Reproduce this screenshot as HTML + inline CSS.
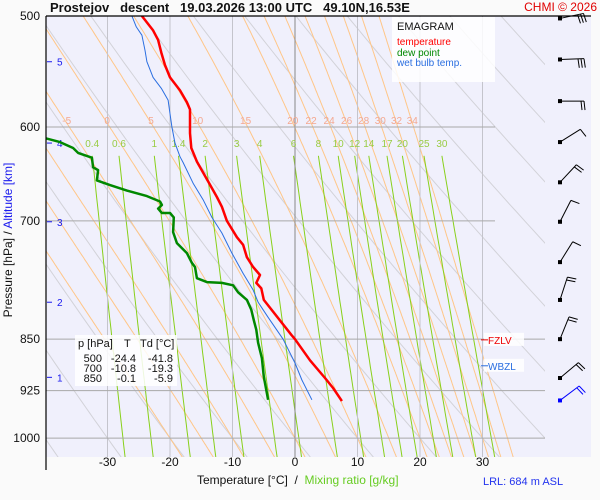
<!DOCTYPE html>
<html><head><meta charset="utf-8">
<style>
html,body{margin:0;padding:0;background:#fafafa;}
svg{display:block;font-family:"Liberation Sans",sans-serif;}
</style></head>
<body>
<svg id="chart" width="600" height="500" viewBox="0 0 600 500" xmlns="http://www.w3.org/2000/svg">
<defs>
<clipPath id="plotClip"><rect x="46" y="16" width="499" height="441"/></clipPath>
<clipPath id="profClip"><rect x="46" y="16" width="545" height="441"/></clipPath>
</defs>
<rect x="46" y="16" width="545" height="441" fill="#f0f0fc"/>
<g id="bg" clip-path="url(#plotClip)"></g>
<g id="grid"></g>
<g id="labels"></g>
<g id="profiles" clip-path="url(#profClip)"></g>
<g id="barbs"></g>
<line x1="46" y1="16" x2="591" y2="16" stroke="#000" stroke-width="1.2"/>
<line x1="46" y1="16" x2="46" y2="470" stroke="#000" stroke-width="1.2"/>
<text x="50" y="12" font-size="13" font-weight="bold" fill="#111" xml:space="preserve">Prostejov   descent   19.03.2026 13:00 UTC   49.10N,16.53E</text>
<text x="597" y="11" font-size="12" fill="#e00000" text-anchor="end">CHMI © 2026</text>
<g>
<rect x="392" y="17" width="103" height="65" fill="#ffffff" opacity="0.85"/>
<text x="397" y="30" font-size="11" fill="#111">EMAGRAM</text>
<text x="397" y="45" font-size="10" fill="#ff0000">temperature</text>
<text x="397" y="56" font-size="10" fill="#008800">dew point</text>
<text x="397" y="66" font-size="10" fill="#2a6ee0">wet bulb temp.</text>
</g>
<g font-size="11" fill="#111">
<rect x="75" y="335" width="102" height="51" fill="#ffffff" opacity="0.85"/>
<text x="78" y="347">p [hPa]</text><text x="124" y="347">T</text><text x="140" y="347">Td [°C]</text>
<text x="102" y="362" text-anchor="end">500</text><text x="136" y="362" text-anchor="end">-24.4</text><text x="173" y="362" text-anchor="end">-41.8</text>
<text x="102" y="372" text-anchor="end">700</text><text x="136" y="372" text-anchor="end">-10.8</text><text x="173" y="372" text-anchor="end">-19.3</text>
<text x="102" y="382" text-anchor="end">850</text><text x="136" y="382" text-anchor="end">-0.1</text><text x="173" y="382" text-anchor="end">-5.9</text>
</g>
<text transform="translate(12,240) rotate(-90)" font-size="12" text-anchor="middle" fill="#111">Pressure [hPa]  /  <tspan fill="#1a1aee">Altitude [km]</tspan></text>
<text x="197" y="484" font-size="12" fill="#111" xml:space="preserve">Temperature [°C]  /  <tspan fill="#66cc22">Mixing ratio [g/kg]</tspan></text>
<text x="483" y="485" font-size="11" fill="#2233ee">LRL: 684 m ASL</text>
</svg>
<script>
// ---- data ----
const tempP = [500,512,520,531,542,553,565,576,583,606,621,635,656,673,684,700,719,728,743,755,765,775,782,797,844,850,880,906,921,941];
const tempT = [-24.5,-22.7,-21.9,-21.4,-20.8,-20.0,-18.4,-17.3,-16.8,-16.8,-16.6,-15.7,-13.9,-12.5,-11.7,-10.9,-9.3,-8.3,-7.7,-6.7,-5.6,-6.2,-5.4,-5.0,-0.6,0.0,2.4,4.8,6.1,7.5];
const dewP = [500,600,611,615,621,626,631,641,644,655,660,666,672,678,682,686,691,691,696,713,726,738,750,755,769,774,775,778,787,797,810,824,837,855,877,904,939];
const dewT = [-41.8,-41.0,-40.0,-37.6,-35.5,-34.7,-32.5,-32.3,-31.5,-31.7,-29.6,-26.9,-23.7,-21.6,-21.3,-21.9,-21.3,-20.0,-19.4,-19.5,-18.9,-17.3,-16.5,-16.0,-15.7,-14.1,-11.7,-9.9,-9.1,-7.7,-7.0,-6.6,-6.2,-5.9,-5.3,-5.0,-4.3];
const wbP = [500,509,516,529,539,553,563,574,587,600,616,630,636,658,676,696,714,738,763,784,800,820,850,884,909,939];
const wbT = [-26.1,-25.4,-24.5,-24.0,-23.7,-22.7,-21.4,-20.3,-20.0,-19.7,-19.2,-18.4,-17.9,-16.3,-14.7,-13.3,-11.7,-10.1,-8.3,-6.7,-5.9,-4.3,-1.9,0.0,1.1,2.7];
const windP = [502,537,575,615,657,701,749,797,850,906,940];
const windDir = [78,88,90,58,43,27,32,18,22,50,53];
const windKt = [30,30,20,10,20,10,10,20,20,20,20];
const pressTicks = [500,600,700,850,925,1000];
const tempTicks = [-30,-20,-10,0,10,20,30];
const kmLabels = [1,2,3,4,5];
const kmPress = [905,800,701,616,539];
const thetaWLabels = [-5,0,5,10,15,20,22,24,26,28,30,32,34];
const thetaWExtra = [-20,-15,-10];
const mixLabels = [0.4,0.6,1,1.4,2,3,4,6,8,10,12,14,17,20,25,30];
const dryThetas = [-40,-30,-20,-10,0,10,20,30,40,50,60,70,80,90,100,110,120,130,140,150,160];
const fzlvP = 851, wbzlP = 888;

// ---- scales ----
const xS = T => 295 + 6.25*T;
const yS = p => 16 + 609*Math.log(p/500);
const NS = "http://www.w3.org/2000/svg";
function mk(tag, attrs, parent){
  const e = document.createElementNS(NS, tag);
  for (const k in attrs) e.setAttribute(k, attrs[k]);
  parent.appendChild(e); return e;
}
const bg = document.getElementById('bg'), grid = document.getElementById('grid'),
      labels = document.getElementById('labels'), prof = document.getElementById('profiles'),
      barbs = document.getElementById('barbs');
const pts = arr => arr.map(q => q[0].toFixed(1)+','+q[1].toFixed(1)).join(' ');

// dry adiabats
dryThetas.forEach(th => {
  const a = [];
  for (let p = 480; p <= 1040; p += 10) a.push([xS((th+273.15)*Math.pow(p/1000,0.2857)-273.15), yS(p)]);
  const el = mk('polyline', {points: pts(a), fill:'none', stroke:'#d2d2d8', 'stroke-width':1}, bg);
  
  
});
// moist adiabats
const Rd=287.04, cp=1005.7, Lv=2.501e6, eps=0.622;
const es = Tc => 6.112*Math.exp(17.67*Tc/(Tc+243.5));
function dTdp(T,p){ const e=es(T-273.15), rs=eps*e/(p-e);
  return (Rd*T + Lv*rs)/(p*(cp + Lv*Lv*rs*eps/(Rd*T*T))); }
function moist(thw){
  const up=[], T0=thw+273.15; let T=T0;
  for (let p=1000; p>=470; p-=2){ up.push([p,T]); T -= dTdp(T,p)*2; }
  const dn=[]; T=T0;
  for (let p=1000; p<=1040; p+=2){ dn.push([p,T]); T += dTdp(T,p)*2; }
  return dn.reverse().concat(up.slice(1));
}
function tAt(curve,p){ let best=curve[0]; curve.forEach(c=>{ if(Math.abs(c[0]-p)<Math.abs(best[0]-p)) best=c; }); return best[1]-273.15; }
thetaWExtra.concat(thetaWLabels).forEach(th => {
  const c = moist(th);
  const el = mk('polyline', {points: pts(c.map(q=>[xS(q[1]-273.15), yS(q[0])])), fill:'none', stroke:'#ffc688', 'stroke-width':1}, bg);
  
  
  if (thetaWLabels.includes(th)) {
    const t = mk('text', {x: xS(tAt(c,596)).toFixed(1), y: 124, 'font-size':10, fill:'#f4a890', 'text-anchor':'middle'}, labels);
    t.textContent = th;
    
    
  }
});
// mixing ratio lines
function tMix(w,p){ const e=w*p/(622+w), l=Math.log(e/6.112); return 243.5*l/(17.67-l); }
mixLabels.forEach(w => {
  const a=[]; for (let p=629; p<=1040; p+=10) a.push([xS(tMix(w,p)), yS(p)]);
  const el = mk('polyline', {points: pts(a), fill:'none', stroke:'#88d01a', 'stroke-width':1}, bg);
  
  
  const t = mk('text', {x: xS(tMix(w,629)).toFixed(1), y: 147, 'font-size':10, fill:'#99cc44', 'text-anchor':'middle'}, labels);
  t.textContent = w;
  
  
});
// isotherms + x ticks
tempTicks.forEach(T => {
  const el = mk('line', {x1:xS(T), x2:xS(T), y1:16, y2:457, stroke: T===0?'#888':'#c4c4cc', 'stroke-width':1}, grid);
  
  
  const t = mk('text', {x:xS(T), y:466, 'font-size':12, fill:'#111', 'text-anchor':'middle'}, grid);
  t.textContent = T;
  
  
});
// isobars + y ticks
pressTicks.forEach(p => {
  const xr = p < 800 ? 495 : 545;
  if (p !== 500) {
    const el = mk('line', {x1:46, x2:xr, y1:yS(p), y2:yS(p), stroke:'#a8a8a8', 'stroke-width':1}, grid);
    
    
  }
  const t = mk('text', {x:40, y:yS(p)+4, 'font-size':12, fill:'#111', 'text-anchor':'end'}, grid);
  t.textContent = p;
  
  
});
// km ticks
kmLabels.forEach((k,i) => {
  const y = yS(kmPress[i]);
  const el = mk('line', {x1:47, x2:52, y1:y, y2:y, stroke:'#1a1aee', 'stroke-width':1}, grid);
  
  
  const t = mk('text', {x:57, y:y+4, 'font-size':10, fill:'#1a1aee'}, grid);
  t.textContent = k;
  
  
});
// FZLV / WBZL
[[fzlvP,'FZLV','#ee0000','fzlv-label'],[wbzlP,'WBZL','#2a6ee0','wbzl-label']].forEach(d => {
  const y = yS(d[0]);
  mk('rect', {x:484, y:y-7, width:40, height:13, fill:'#fff', opacity:0.85}, grid);
  mk('line', {x1:481, x2:488, y1:y, y2:y, stroke:d[2], 'stroke-width':1}, grid);
  const t = mk('text', {x:488, y:y+4, 'font-size':10, fill:d[2]}, grid);
  t.textContent = d[1];
  
  
});
// profiles
function profile(P,T,color,w,name){
  const el = mk('polyline', {points: pts(P.map((p,i)=>[xS(T[i]), yS(p)])), fill:'none', stroke:color, 'stroke-width':w, 'stroke-linejoin':'round'}, prof);
  
  
}
profile(wbP, wbT, '#2a6ee0', 1, 'wet-bulb-line');
profile(dewP, dewT, '#008800', 2.5, 'dew-point-line');
profile(tempP, tempT, '#ff0000', 2.5, 'temperature-line');
// wind barbs
windP.forEach((p,i) => {
  const bx = 560, by = yS(p), color = i===windP.length-1 ? '#0000ff' : '#000';
  const a = windDir[i]*Math.PI/180, ux = Math.sin(a), uy = -Math.cos(a), L = 24;
  const tx = bx+ux*L, ty = by+uy*L;
  const g = mk('g', {}, barbs);
  
  
  mk('rect', {x:bx-2, y:by-2, width:4, height:4, fill:color}, g);
  mk('line', {x1:bx, y1:by, x2:tx, y2:ty, stroke:color, 'stroke-width':1}, g);
  let s = windKt[i], k = 0;
  while (s >= 5) {
    const len = s >= 10 ? 9 : 5;
    const sx = tx - ux*3*k, sy = ty - uy*3*k;
    const px = -uy, py = ux;
    mk('line', {x1:sx, y1:sy, x2:sx+px*len+ux*1, y2:sy+py*len+uy*1, stroke:color, 'stroke-width':1}, g);
    s -= s >= 10 ? 10 : 5; k++;
  }
});
</script>
</body></html>
